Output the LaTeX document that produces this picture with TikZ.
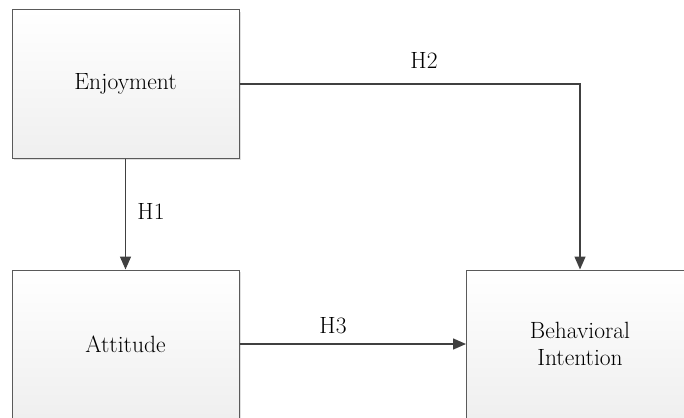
\documentclass[tikz,border=0pt]{standalone}
\usetikzlibrary{arrows.meta,shadows}
\definecolor{edge}{HTML}{5A5A5A}
\definecolor{wire}{HTML}{404040}
\definecolor{boxbot}{HTML}{EFEFEF}
\begin{document}
\begin{tikzpicture}[x=1pt,y=-1pt,
  box/.style={draw=edge, line width=1pt, top color=white, bottom color=boxbot,
    minimum width=227pt, minimum height=148pt, inner sep=0pt, align=center,
    font=\fontsize{23.5}{27}\selectfont,
    drop shadow={shadow xshift=2pt, shadow yshift=-2pt, fill=black!12, opacity=1}},
  arr/.style={draw=wire, line width=1.4pt, -{Triangle[length=13pt,width=11pt]}},
  lab/.style={font=\fontsize{23.5}{27}\selectfont, inner sep=0pt}]
\useasboundingbox (0,0) rectangle (684,417);
\clip (0,0) rectangle (684,417);
\node[box] (enj) at (125.5,84) {Enjoyment};
\node[box] (att) at (125.5,344) {Attitude};
\node[box] (bi) at (580,344) {Behavioral\\Intention};
\draw[arr] (enj.south) -- (att.north);
\draw[arr] (enj.east) -| (bi.north);
\draw[arr] (att.east) -- (bi.west);
\node[lab] (h1) at (151,211) {H1};
\node[lab] (h2) at (424,60) {H2};
\node[lab] (h3) at (333,326) {H3};
\end{tikzpicture}
\end{document}
